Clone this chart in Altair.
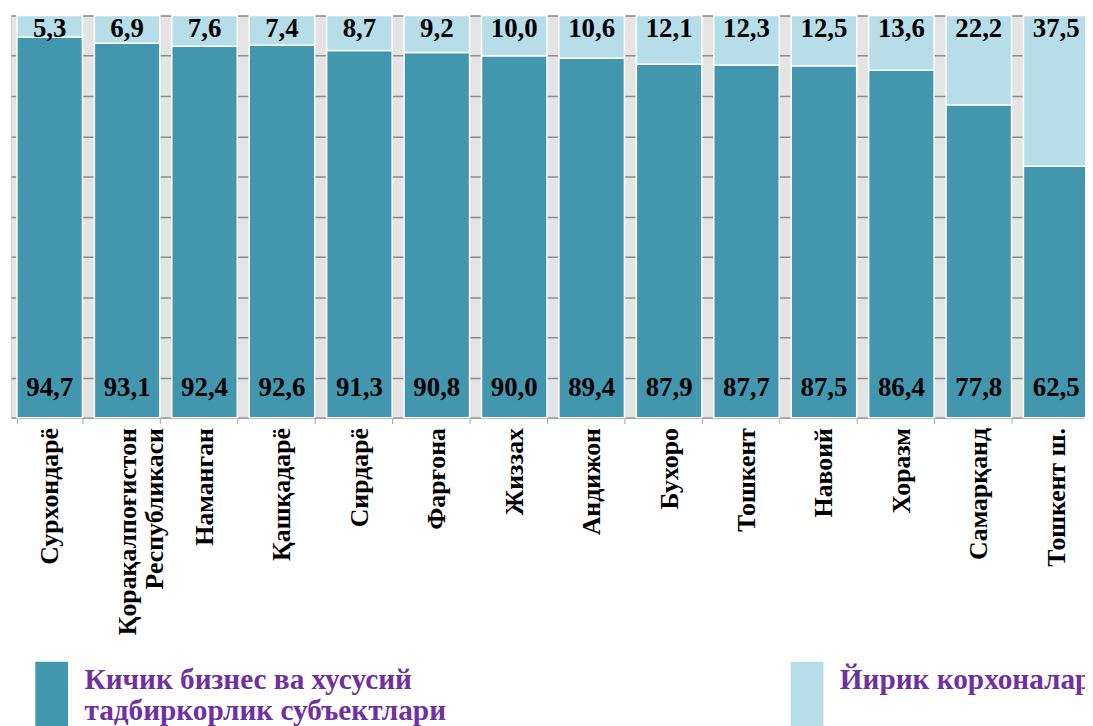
import altair as alt
import pandas as pd

regions = ["Сурхондарё", "Қорақалпоғистон\nРеспубликаси", "Наманган", "Қашқадарё",
           "Сирдарё", "Фарғона", "Жиззах", "Андижон", "Бухоро", "Тошкент",
           "Навоий", "Хоразм", "Самарқанд", "Тошкент ш."]
small_biz = [94.7, 93.1, 92.4, 92.6, 91.3, 90.8, 90.0, 89.4, 87.9, 87.7, 87.5, 86.4, 77.8, 62.5]
large_ent = [5.3, 6.9, 7.6, 7.4, 8.7, 9.2, 10.0, 10.6, 12.1, 12.3, 12.5, 13.6, 22.2, 37.5]
series = ["Кичик бизнес ва хусусий\nтадбиркорлик субъектлари", "Йирик корхоналар"]
bar_colors = ["#4297AF", "#B6DDE8"]

rows = []
for i, r in enumerate(regions):
    for k, vals in enumerate([small_biz, large_ent]):
        v = vals[i]
        rows.append({"region": r, "series": series[k], "value": v, "ord": k,
                     "label": f"{v:.1f}".replace(".", ","),
                     "pos": 0 if k == 0 else 100})
df = pd.DataFrame(rows)

FONT = "Liberation Serif"

x_enc = alt.X("region:N", sort=regions, title=None,
              scale=alt.Scale(paddingInner=0.154, paddingOuter=0.077),
              axis=alt.Axis(labelAngle=-90, labelFont=FONT, labelFontSize=26,
                            labelFontWeight="bold", labelColor="black",
                            labelExpr="split(datum.label, '\\n')", labelLineHeight=28,
                            labelPadding=4, tickBand="extent", tickSize=6,
                            tickColor="#a6a6a6", domainColor="#a6a6a6", grid=False,
                            labelLimit=400))

bars = alt.Chart(df).mark_bar(stroke="white", strokeWidth=1.5).encode(
    x=x_enc,
    y=alt.Y("value:Q", stack="zero", title=None,
            scale=alt.Scale(domain=[0, 100], nice=False),
            axis=alt.Axis(values=list(range(0, 101, 10)), labels=False, ticks=False,
                          domain=False, grid=True, gridColor="#8c8c8c", gridWidth=1.5)),
    color=alt.Color("series:N", sort=series,
                    scale=alt.Scale(domain=series, range=bar_colors),
                    legend=alt.Legend(title=None, orient="none", legendX=8, legendY=651,
                                      direction="horizontal", columns=2, columnPadding=330,
                                      symbolType="M-0.5,-1H0.5V1H-0.5Z", symbolSize=4356,
                                      symbolStrokeWidth=0, padding=0,
                                      labelFont=FONT, labelFontSize=29.5, labelFontWeight="bold",
                                      labelColor="#7030A0", labelLimit=600, labelOffset=0,
                                      labelBaseline="bottom",
                                      labelExpr="split(datum.label, '\\n')")),
    order=alt.Order("ord:Q"),
)

txt_bottom = alt.Chart(df).transform_filter("datum.ord == 0").mark_text(
    font=FONT, fontSize=27, fontWeight="bold", color="black", baseline="middle", dy=-30
).encode(x=alt.X("region:N", sort=regions), y=alt.Y("pos:Q"), text="label:N")

txt_top = alt.Chart(df).transform_filter("datum.ord == 1").mark_text(
    font=FONT, fontSize=27, fontWeight="bold", color="black", baseline="middle", dy=14
).encode(x=alt.X("region:N", sort=regions), y=alt.Y("pos:Q"), text="label:N")

chart = alt.layer(bars, txt_bottom, txt_top).properties(
    width=1092, height=405,
    autosize=alt.AutoSizeParams(type="none"),
    padding={"left": 3, "top": 5, "right": -10, "bottom": 308},
    background="white",
).configure_view(fill="#e4e4e4", stroke="#d0d0d0")

chart.save("out.html", embed_options={"renderer": "svg", "actions": False})
